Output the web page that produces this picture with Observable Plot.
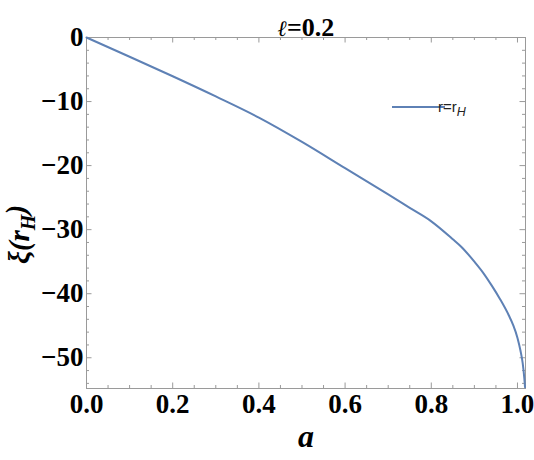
<!DOCTYPE html>
<html>
<head>
<meta charset="utf-8">
<script src="https://cdn.jsdelivr.net/npm/d3@7"></script>
<script src="https://cdn.jsdelivr.net/npm/@observablehq/plot@0.6"></script>
<style>
  html, body { margin: 0; padding: 0; background: white; }
</style>
</head>
<body>
<div id="chart"></div>
<script>
// Data
const aValues  = [0, 0.1, 0.2, 0.3, 0.4, 0.5, 0.6, 0.7, 0.75, 0.8, 0.85, 0.87, 0.9, 0.92, 0.94, 0.96, 0.98, 0.99, 1.0, 1.007, 1.012, 1.016, 1.0175];
const xiValues = [0, -3.0, -6.05, -9.2, -12.5, -16.3, -20.4, -24.5, -26.6, -28.7, -31.5, -32.7, -35.0, -36.7, -38.7, -40.9, -43.4, -44.9, -46.9, -48.9, -50.8, -53.3, -54.6];
const xMajorTicks = [0, 0.2, 0.4, 0.6, 0.8, 1.0];
const yMajorTicks = [0, -10, -20, -30, -40, -50];
const xMinorTicks = d3.range(0, 21).map(i => +(i * 0.05).toFixed(2)).filter(v => !xMajorTicks.includes(v));
const yMinorTicks = d3.range(0, 28).map(i => -i * 2).filter(v => !yMajorTicks.includes(v));
const titleSymbol = "ℓ";
const titleValue = "=0.2";
const titleText = titleSymbol + titleValue;
const xLabel = "a";
const seriesName = "r=r";

const data = aValues.map((a, i) => ({a, xi: xiValues[i]}));

const W = 534, H = 460, mT = 37, mB = 72, mL = 86, mR = 9;
const frameW = W - mL - mR, frameH = H - mT - mB;
const frameColor = "#9a9a9a";
const lineColor = "#5E81B5";
const majorLen = 5.5, minorLen = 3;
const serif = "'Liberation Serif', 'Times New Roman', serif";

const chart = Plot.plot({
  width: W, height: H,
  marginTop: mT, marginBottom: mB, marginLeft: mL, marginRight: mR,
  x: {domain: [0, 1.0186]},
  y: {domain: [-54.8, 0]},
  style: {fontFamily: serif, fontWeight: "bold", fontSize: "27px", background: "white", overflow: "visible"},
  marks: [
    Plot.frame({stroke: frameColor, strokeWidth: 1}),
    // bottom ticks (inward)
    Plot.tickX(xMajorTicks, {x: d => d, stroke: frameColor, insetTop: frameH - majorLen}),
    Plot.tickX(xMinorTicks, {x: d => d, stroke: frameColor, insetTop: frameH - minorLen}),
    // top ticks (inward)
    Plot.tickX(xMajorTicks, {x: d => d, stroke: frameColor, insetBottom: frameH - majorLen}),
    Plot.tickX(xMinorTicks, {x: d => d, stroke: frameColor, insetBottom: frameH - minorLen}),
    // left ticks
    Plot.tickY(yMajorTicks, {y: d => d, stroke: frameColor, insetRight: frameW - majorLen}),
    Plot.tickY(yMinorTicks, {y: d => d, stroke: frameColor, insetRight: frameW - minorLen}),
    // right ticks
    Plot.tickY(yMajorTicks, {y: d => d, stroke: frameColor, insetLeft: frameW - majorLen}),
    Plot.tickY(yMinorTicks, {y: d => d, stroke: frameColor, insetLeft: frameW - minorLen}),
    Plot.axisX({ticks: xMajorTicks, tickSize: 0, tickPadding: 5, tickFormat: d3.format(".1f"), label: null, fill: "black"}),
    Plot.axisY({ticks: yMajorTicks, tickSize: 0, tickPadding: 3, tickFormat: d => d === 0 ? "0" : "\u2212" + Math.abs(d), label: null, fill: "black"}),
    Plot.line(data, {x: "a", y: "xi", stroke: lineColor, strokeWidth: 2, curve: "monotone-x"}),
    Plot.text([titleText], {frameAnchor: "top", dy: -20, fill: "black"}),
    Plot.text([xLabel], {frameAnchor: "bottom", dy: 58, fontStyle: "italic", fill: "black"})
  ]
});

const svg = d3.select(chart);
svg.selectAll('g[aria-label="x-axis tick label"] text, g[aria-label="y-axis tick label"] text')
  .style("font-size", "27px").style("font-weight", "bold").style("font-family", serif);
svg.selectAll('g[aria-label="text"] text').style("font-family", serif).style("font-weight", "bold");
// title: script ell in a bold italic face
svg.selectAll('g[aria-label="text"]').filter((d, i, n) => n[i].textContent === titleText).selectAll("text")
  .style("font-size", "26px")
  .each(function() {
    const t = d3.select(this);
    t.text(null);
    t.append("tspan").style("font-family", "'DejaVu Serif', serif").style("font-style", "italic").style("font-size", "22px").text(titleSymbol);
    t.append("tspan").text(titleValue);
  });
svg.selectAll('g[aria-label="text"]').filter((d, i, n) => n[i].textContent === xLabel).selectAll("text").style("font-size", "32px");

// y-axis label
const yl = svg.append("text")
  .attr("transform", `translate(19,${mT + frameH / 2 + 22}) rotate(-90)`)
  .attr("text-anchor", "middle")
  .attr("dy", "0.35em")
  .style("font-family", serif)
  .style("font-weight", "bold")
  .style("font-style", "italic")
  .style("font-size", "29px")
  .attr("fill", "black");
yl.append("tspan").text("ξ(r");
yl.append("tspan").attr("dy", "0.3em").style("font-size", "20px").text("H");
yl.append("tspan").attr("dy", "-0.3em").text(")");

// legend
const lg = svg.append("g");
lg.append("line").attr("x1", 392).attr("x2", 445).attr("y1", 107).attr("y2", 107)
  .attr("stroke", lineColor).attr("stroke-width", 1.8);
const lt = lg.append("text").attr("x", 452).attr("y", 112)
  .style("font-family", "'Liberation Sans', Arial, sans-serif")
  .style("font-weight", "normal")
  .style("font-size", "15px")
  .attr("fill", "#222");
lt.append("tspan").text(seriesName);
lt.append("tspan").attr("dy", "0.3em").style("font-size", "12.5px").style("font-style", "italic").text("H");

document.getElementById("chart").appendChild(chart);
</script>
</body>
</html>
